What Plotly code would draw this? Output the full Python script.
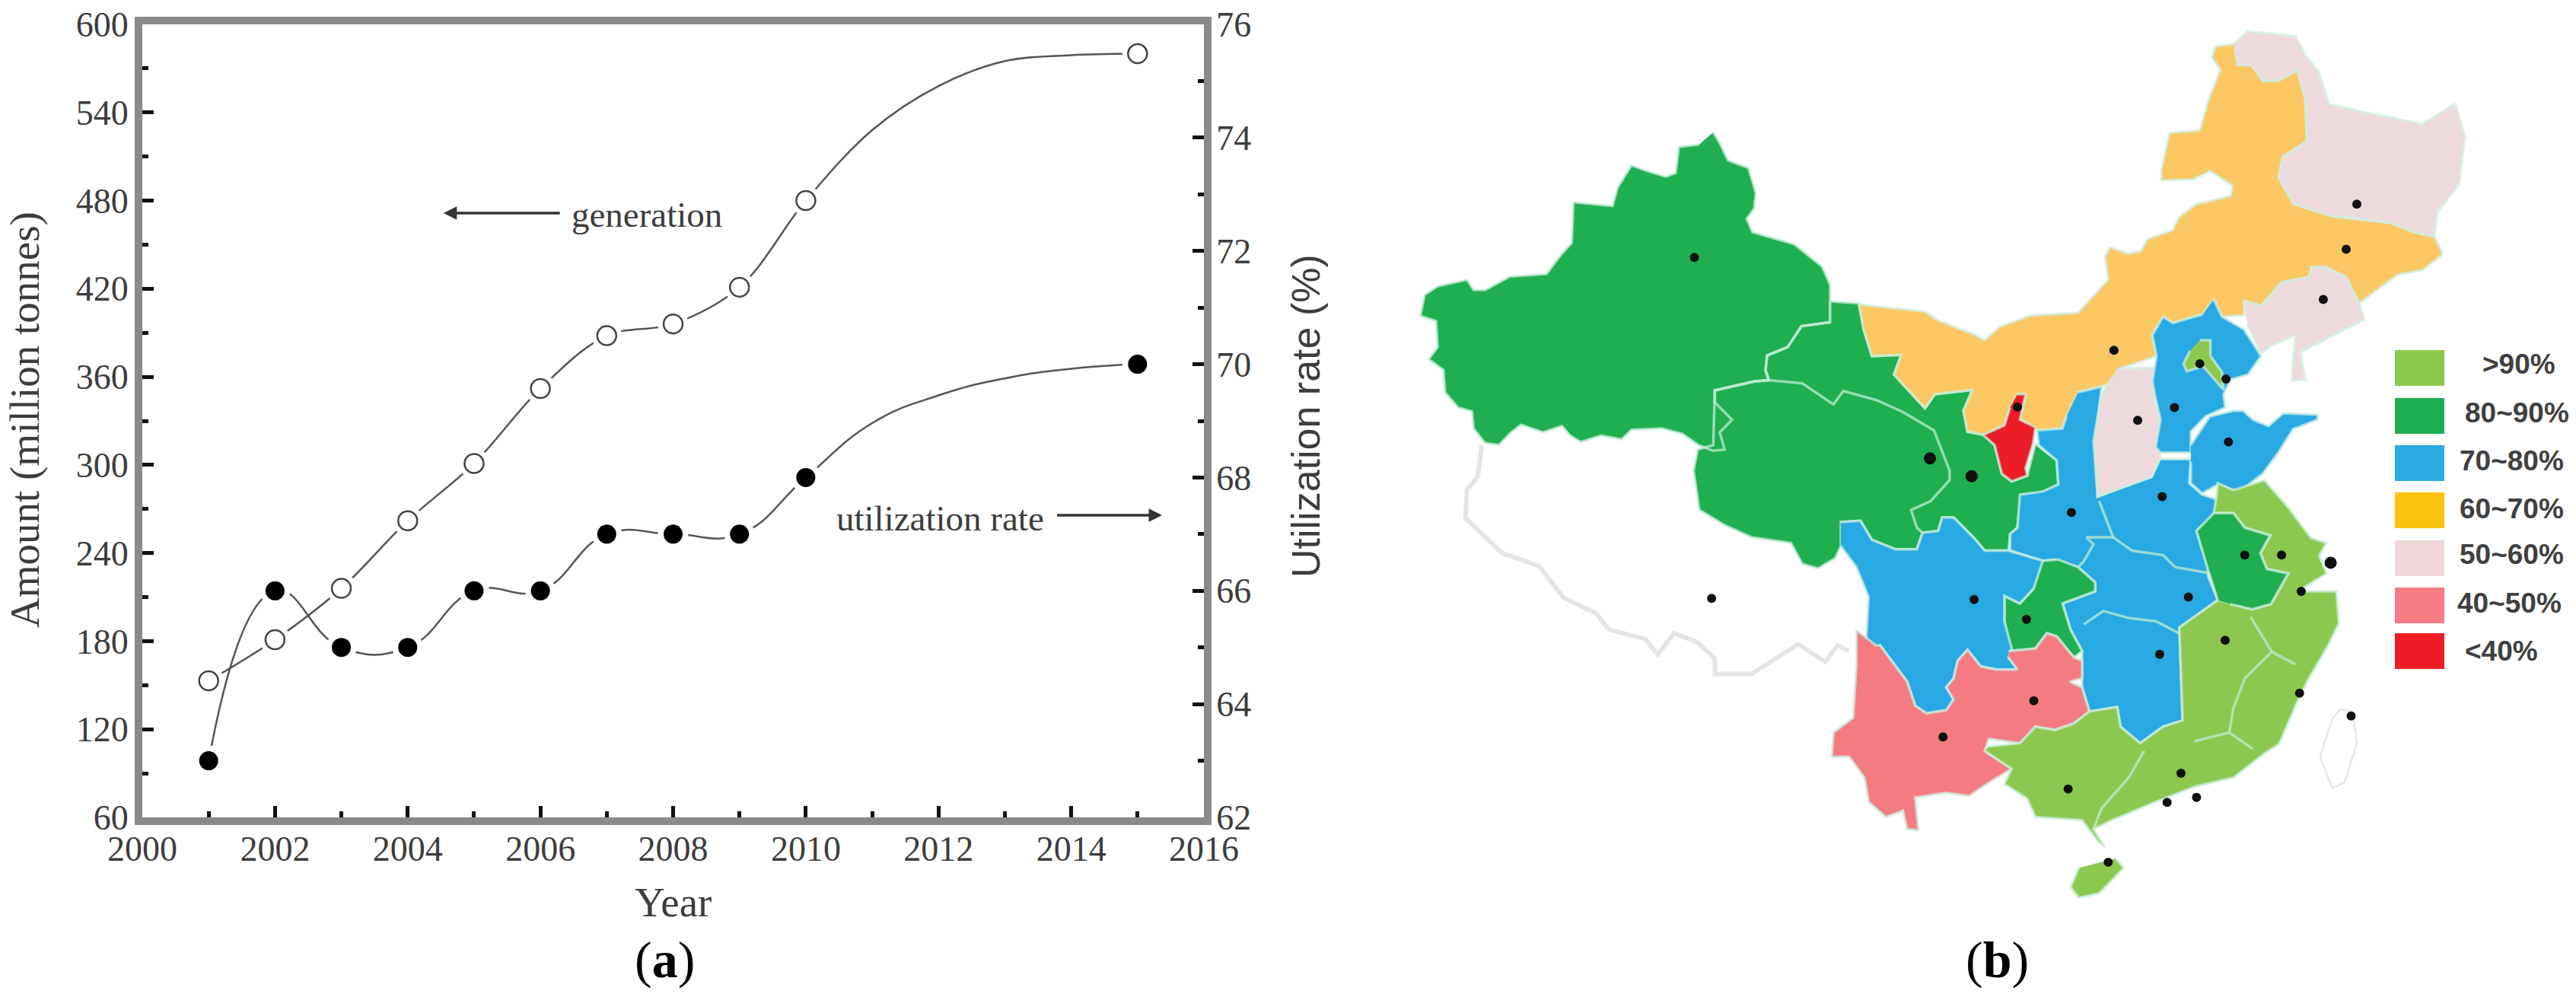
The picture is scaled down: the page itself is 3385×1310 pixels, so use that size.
import plotly.graph_objects as go

W, H = 3385, 1310

# panel (a)
years = [2001, 2002, 2003, 2004, 2005, 2006, 2007, 2008, 2009, 2010, 2015]
generation = [153, 181, 216, 262, 301, 352, 388, 396, 421, 480, 580]
utilization = [63, 66, 65, 65, 66, 66, 67, 67, 67, 68, 70]
# where the drawn curves run between 2010 and 2015 (no markers there)
tail_years = [2011, 2012, 2013, 2014]
generation_tail = [528, 558, 575, 579]
utilization_tail = [68.96, 69.45, 69.75, 69.92]

# panel (b): outlines, in map units (see xaxis3 / yaxis3)
xinjiang = [(513,208),(521,225),(531,252),(556,264),(565,303),(563,328),(554,344),(561,365),(612,384),(646,419),
            (656,448),(656,474),(656,507),(621,513),(604,546),(579,559),(577,582),(581,598),(563,600),(515,614),
            (515,633),(536,660),(521,680),(527,707),(513,709),(496,701),(475,682),(450,674),(413,676),(401,691),
            (376,685),(351,695),(338,685),(328,670),(305,680),(278,668),(264,682),(251,700),(234,697),(220,674),
            (218,647),(201,641),(185,617),(183,582),(165,565),(176,546),(174,505),(155,497),(160,464),(176,450),
            (212,440),(220,456),(234,456),(264,435),(309,431),(326,402),(340,382),(342,318),(390,324),(396,295),
            (413,260),(430,268),(455,278),(467,272),(471,231),(496,227)]
gansu_qinghai = [(656,474),(691,477),(697,518),(707,560),(743,558),(734,589),(751,613),(772,642),(784,620),(830,613),
                 (819,646),(824,679),(845,684),(857,700),(866,745),(878,757),(897,748),(907,698),(933,724),(935,762),
                 (914,776),(890,778),(885,830),(876,840),(874,866),(845,866),(831,845),(807,814),(793,814),(788,835),
                 (769,838),(762,864),(736,864),(707,849),(693,819),(669,821),(669,859),(662,878),(641,894),(622,887),
                 (608,854),(560,845),(527,826),(496,802),(489,740),(494,707),(513,700),(515,633),(515,614),(563,600),
                 (581,598),(577,582),(579,559),(604,546),(621,513),(656,507)]
inner_mongolia_jilin = [(693,479),(772,490),(788,504),(830,525),(845,535),(863,514),(901,496),(959,492),(975,469),
                        (996,440),(992,403),(998,389),(1021,399),(1036,395),(1044,376),(1075,362),(1083,341),(1104,321),
                        (1146,308),(1148,292),(1121,269),(1100,282),(1061,284),(1061,267),(1071,209),(1108,205),(1119,156),
                        (1133,110),(1123,90),(1127,73),(1150,69),(1154,102),(1171,102),(1185,127),(1204,127),(1227,110),
                        (1237,156),(1239,222),(1210,246),(1204,279),(1223,321),(1270,340),(1340,350),(1370,365),(1395,372),
                        (1405,400),(1380,425),(1350,432),(1315,465),(1303,477),(1287,436),(1262,420),(1245,420),(1241,436),
                        (1208,444),(1183,481),(1162,473),(1162,496),(1135,498),(1125,471),(1112,494),(1075,508),(1063,498),
                        (1050,527),(1055,560),(1009,580),(996,603),(988,608),(959,617),(945,655),(940,674),(909,677),
                        (888,660),(895,620),(885,620),(876,641),(869,669),(845,684),(824,679),(819,646),(830,613),(784,620),
                        (772,642),(751,613),(734,589),(743,558),(707,560),(697,518),(691,477)]
heilongjiang = [(1150,69),(1166,49),(1225,57),(1237,86),(1254,115),(1266,164),(1305,175),(1380,195),(1420,163),(1432,215),
                (1425,290),(1398,335),(1395,372),(1370,365),(1340,350),(1270,340),(1223,321),(1204,279),(1210,246),
                (1239,222),(1237,156),(1227,110),(1204,127),(1185,127),(1171,102),(1154,102)]
liaoning = [(1162,473),(1183,481),(1208,444),(1241,436),(1245,420),(1262,420),(1287,436),(1303,477),(1309,503),(1231,554),
            (1237,597),(1220,599),(1225,527),(1196,543),(1183,556),(1166,510)]
shanxi = [(1009,580),(1063,578),(1058,610),(1052,632),(1063,655),(1059,722),(1049,750),(983,781),(978,693),(988,620),(996,603)]
hebei = [(1125,471),(1135,498),(1162,518),(1183,560),(1167,589),(1146,597),(1137,620),(1139,641),(1115,655),(1097,679),
         (1097,712),(1060,712),(1054,703),(1060,660),(1054,627),(1050,600),(1055,560),(1050,527),(1063,498),(1075,508),(1112,494)]
tianjin = [(1108,535),(1121,535),(1121,560),(1135,585),(1137,613),(1129,601),(1112,576),(1092,584),(1088,572),(1096,552)]
shandong = [(1097,700),(1120,655),(1149,646),(1161,646),(1173,660),(1192,670),(1210,650),(1252,652),(1252,660),(1222,675),
            (1205,710),(1185,745),(1160,770),(1149,771),(1130,762),(1111,776),(1097,760),(1097,726)]
central = [(959,617),(988,608),(980,693),(983,781),(1049,750),(1059,722),(1097,722),(1095,760),(1111,778),(1128,785),
           (1128,807),(1104,835),(1118,892),(1118,906),(1130,944),(1083,987),(1087,1133),(1063,1143),(1035,1169),(1011,1143),
           (1007,1112),(973,1119),(964,1081),(964,1024),(950,991),(940,949),(980,930),(980,916),(959,892),(930,880),
           (916,882),(876,866),(876,840),(885,830),(888,778),(916,773),(935,762),(933,724),(911,700),(909,677),(940,674),(945,655)]
chongqing = [(916,882),(935,880),(959,892),(980,916),(980,930),(940,949),(950,991),(964,1024),(954,1034),(933,1001),
             (921,996),(907,1020),(874,1024),(869,977),(869,937),(888,949),(905,925)]
sichuan = [(669,821),(693,819),(707,849),(736,864),(762,864),(769,838),(788,835),(793,814),(807,814),(831,845),(845,866),
           (874,866),(916,882),(905,925),(888,949),(869,937),(869,977),(878,1020),(874,1034),(885,1053),(859,1053),(840,1048),
           (824,1022),(812,1039),(807,1067),(798,1081),(807,1100),(798,1117),(774,1122),(760,1110),(750,1072),(717,1015),
           (707,1027),(700,1006),(703,939),(688,892),(669,859)]
guizhou_yunnan = [(874,1024),(907,1020),(921,996),(933,1001),(954,1034),(964,1039),(964,1067),(949,1072),(964,1081),(973,1119),
                  (954,1138),(931,1148),(907,1143),(888,1169),(850,1162),(845,1181),(878,1209),(845,1235),(826,1252),(798,1247),
                  (760,1254),(764,1306),(750,1304),(745,1275),(724,1285),(703,1261),(698,1223),(679,1190),(658,1190),(660,1152),
                  (684,1129),(688,1048),(688,991),(712,1015),(717,1015),(750,1072),(760,1110),(774,1122),(798,1117),(807,1100),
                  (798,1081),(807,1067),(812,1039),(824,1022),(840,1048),(859,1053),(885,1053),(874,1034)]
ningxia = [(885,620),(895,620),(888,660),(907,672),(904,698),(895,736),(897,748),(878,757),(866,745),(857,700),(843,684),(869,669),(876,641)]
southeast = [(850,1174),(888,1169),(907,1143),(931,1148),(954,1138),(973,1119),(1007,1112),(1011,1143),(1035,1169),(1063,1143),
             (1087,1133),(1083,987),(1130,944),(1172,958),(1195,950),(1216,902),(1190,895),(1182,870),(1194,842),(1163,830),
             (1149,807),(1125,807),(1128,785),(1130,760),(1149,771),(1187,755),(1216,798),(1244,846),(1263,854),(1254,874),
             (1263,902),(1228,930),(1275,930),(1278,980),(1265,1015),(1240,1070),(1225,1110),(1205,1170),(1187,1185),(1149,1223),
             (1102,1237),(1054,1261),(997,1292),(978,1304),(992,1332),(983,1323),(964,1290),(907,1285),(897,1256),(869,1233),
             (878,1209),(845,1181)]
anhui = [(1130,944),(1118,896),(1104,835),(1125,807),(1149,807),(1163,830),(1194,842),(1182,870),(1190,895),(1216,902),
         (1195,950),(1172,958),(1145,950)]
hainan = [(1005,1350),(1015,1365),(985,1405),(960,1412),(950,1395),(960,1365)]

tibet_line = [(230,700),(225,750),(212,770),(210,815),(255,870),(300,890),(330,940),(370,965),(385,990),(430,1005),(445,1030),
              (465,996),(494,1010),(515,1036),(515,1060),(560,1060),(617,1013),(650,1041),(665,1015),(679,1024)]
taiwan_line = [(1280,1115),(1270,1130),(1255,1190),(1270,1240),(1285,1230),(1300,1170),(1295,1120),(1280,1115)]
borders = [
    [(656,474),(656,507),(621,513),(604,546),(579,559),(577,582),(581,598)],
    [(581,598),(563,600),(515,614),(515,633),(536,660),(521,680),(527,707),(513,709),(496,701)],
    [(581,598),(622,603),(660,636),(672,615),(712,629),(745,648),(783,677),(802,740),(802,755),(779,788),(755,802),(762,830),(769,838)],
    [(985,788),(1002,845),(1025,866),(1063,873),(1078,892),(1118,901)],
    [(1002,845),(969,845),(978,856),(966,883),(959,892)],
    [(966,982),(990,961),(1021,972),(1054,977),(1083,996)],
    [(1040,1181),(1021,1223),(988,1271),(978,1304)],
    [(1101,1166),(1144,1152),(1173,1178)],
    [(1144,1152),(1149,1114),(1163,1067),(1196,1025),(1225,1045)],
    [(1170,970),(1196,1025)],
]
cities = [(490,405),(511,941),(885,640),(832,943),(905,1102),(794,1159),(896,974),(951,806),(1062,781),
          (1094,939),(1059,1029),(1139,1007),(1163,873),(1208,873),(1232,930),(1230,1090),(1293,1126),(1085,1216),
          (1068,1262),(1104,1254),(947,1241),(996,1356),(1003,551),(1032,661),(1077,641),(1143,695),(1108,572),(1140,596),
          (1259,471),(1287,392),(1300,321)]
big_cities = [(778,721),(829,749),(1268,885)]

legend_labels = [">90%", "80~90%", "70~80%", "60~70%", "50~60%", "40~50%", "<40%"]
legend_colors = ["#8CC84B", "#1DAE4F", "#29ABE2", "#FBC30F", "#F0D6D9", "#F67C85", "#ED1C24"]
legend_tops = [460, 523, 585, 647, 710, 772, 832]
legend_text_x = [3310, 3307, 3300, 3300, 3300, 3297, 3287]
legend_text_y = [478, 542, 605, 668, 728, 792, 855]

LIGHT, DARK, BLUE, YELLOW, PINK, SALMON, RED = "#8CC84F", "#1FAE50", "#29A9E3", "#FBC763", "#EEDADC", "#F47B82", "#EC1C28"
regions = [
    (xinjiang, DARK), (gansu_qinghai, DARK), (inner_mongolia_jilin, YELLOW), (heilongjiang, PINK), (liaoning, PINK),
    (central, BLUE), (shanxi, PINK), (hebei, BLUE), (tianjin, LIGHT), (shandong, BLUE), (chongqing, DARK), (sichuan, BLUE),
    (guizhou_yunnan, SALMON), (ningxia, RED), (southeast, LIGHT), (anhui, DARK), (hainan, LIGHT),
]

SERIF = "Liberation Serif"
INK = "#3c3c3c"
AXIS = "#8a8a8a"

fig = go.Figure()

# white discs under the markers leave the little gaps in the curves
fig.add_trace(go.Scatter(x=years[:-1] + tail_years + years[-1:], y=generation[:-1] + generation_tail + generation[-1:],
                         mode="lines", line=dict(color="#555", width=2.5, shape="spline", smoothing=1)))
fig.add_trace(go.Scatter(x=years, y=generation, mode="markers", marker=dict(size=40, color="white")))
fig.add_trace(go.Scatter(x=years, y=generation, mode="markers",
                         marker=dict(size=25, color="white", line=dict(color="#444", width=2.5))))
fig.add_trace(go.Scatter(x=years[:-1] + tail_years + years[-1:], y=utilization[:-1] + utilization_tail + utilization[-1:],
                         yaxis="y2", mode="lines", line=dict(color="#555", width=2.5, shape="spline", smoothing=1.3)))
fig.add_trace(go.Scatter(x=years, y=utilization, yaxis="y2", mode="markers", marker=dict(size=40, color="white")))
fig.add_trace(go.Scatter(x=years, y=utilization, yaxis="y2", mode="markers", marker=dict(size=25, color="black")))

for outline, colour in regions:
    fig.add_trace(go.Scatter(x=[p[0] for p in outline], y=[p[1] for p in outline], xaxis="x3", yaxis="y3",
                             mode="lines", fill="toself", fillcolor=colour,
                             line=dict(color="rgba(205,240,225,0.7)", width=3.5)))
for line in borders:
    fig.add_trace(go.Scatter(x=[p[0] for p in line], y=[p[1] for p in line], xaxis="x3", yaxis="y3", mode="lines",
                             line=dict(color="rgba(190,235,210,0.75)", width=3.5)))
fig.add_trace(go.Scatter(x=[p[0] for p in tibet_line], y=[p[1] for p in tibet_line], xaxis="x3", yaxis="y3", mode="lines",
                         line=dict(color="#e4e4e4", width=6)))
fig.add_trace(go.Scatter(x=[p[0] for p in taiwan_line], y=[p[1] for p in taiwan_line], xaxis="x3", yaxis="y3", mode="lines",
                         line=dict(color="#e6e6e6", width=2.5)))
fig.add_trace(go.Scatter(x=[p[0] for p in cities], y=[p[1] for p in cities], xaxis="x3", yaxis="y3", mode="markers",
                         marker=dict(size=12, color="#111")))
fig.add_trace(go.Scatter(x=[p[0] for p in big_cities], y=[p[1] for p in big_cities], xaxis="x3", yaxis="y3", mode="markers",
                         marker=dict(size=16, color="#111")))

tick_font = dict(family=SERIF, size=46, color=INK)

fig.update_layout(
    width=W, height=H, margin=dict(l=0, r=0, t=0, b=0), paper_bgcolor="white", plot_bgcolor="white", showlegend=False,
    xaxis=dict(domain=[187 / W, 1582 / W], range=[2000, 2016], dtick=2, tick0=2000, ticks="inside", ticklen=15, tickwidth=5,
               tickcolor="#111", showline=True, linecolor=AXIS, linewidth=10, mirror=True, showgrid=False, zeroline=False,
               tickfont=tick_font, ticklabelstandoff=-8, anchor="y", automargin=False,
               minor=dict(dtick=1, ticks="inside", ticklen=8, tickwidth=5, tickcolor="#111")),
    yaxis=dict(domain=[1 - 1074 / H, 1 - 32 / H], range=[60, 600], dtick=60, tick0=60, ticks="inside", ticklen=15, tickwidth=5,
               tickcolor="#111", showline=True, linecolor=AXIS, linewidth=10, showgrid=False, zeroline=False,
               tickfont=tick_font, ticklabelstandoff=-1, automargin=False,
               minor=dict(dtick=30, ticks="inside", ticklen=8, tickwidth=5, tickcolor="#111")),
    yaxis2=dict(overlaying="y", side="right", range=[62, 76], dtick=2, tick0=62, ticks="inside", ticklen=15, tickwidth=5,
                tickcolor="#111", showline=True, linecolor=AXIS, linewidth=10, showgrid=False, zeroline=False,
                tickfont=tick_font, ticklabelstandoff=-3, automargin=False,
                minor=dict(dtick=1, ticks="inside", ticklen=8, tickwidth=5, tickcolor="#111")),
    xaxis3=dict(domain=[1700 / W, 1], range=[0, 1568], visible=False, anchor="y3"),
    yaxis3=dict(domain=[0, 1], range=[1568, 0], visible=False, anchor="x3"),
)


def page_note(px, py, text, font, angle=0):
    fig.add_annotation(x=px / W, y=1 - py / H, xref="paper", yref="paper", text=text, showarrow=False, font=font,
                       textangle=angle, xanchor="center", yanchor="middle")


# axis titles
title_font = dict(family=SERIF, size=55, color=INK)
page_note(884, 1185, "Year", title_font)
page_note(32, 552, "Amount (million tonnes)", title_font, -90)
page_note(1716, 547, "Utilization rate (%)", dict(family="Liberation Sans", size=52, color=INK), -90)

# labels and arrows inside panel (a)
note_font = dict(family=SERIF, size=47, color=INK)
fig.add_annotation(x=2007.6, y=470.5, text="generation", showarrow=False, font=note_font, xanchor="center", yanchor="middle")
fig.add_annotation(x=2012.03, y=263.7, text="utilization rate", showarrow=False, font=note_font, xanchor="center", yanchor="middle")
fig.add_annotation(x=2004.54, y=471.5, ax=2006.31, ay=471.5, axref="x", ayref="y", text="", showarrow=True,
                   arrowhead=2, arrowsize=1, arrowwidth=3.5, arrowcolor="#333")
fig.add_annotation(x=2015.37, y=265.7, ax=2013.77, ay=265.7, axref="x", ayref="y", text="", showarrow=True,
                   arrowhead=2, arrowsize=1, arrowwidth=3.5, arrowcolor="#333")

# panel letters
panel_font = dict(family=SERIF, size=68, color="black")
page_note(873, 1261, "(<b>a</b>)", panel_font)
page_note(2624, 1261, "(<b>b</b>)", panel_font)

# legend of panel (b)
legend_font = dict(family="Liberation Sans", size=37, color="#404040")
for label, colour, top, tx, ty in zip(legend_labels, legend_colors, legend_tops, legend_text_x, legend_text_y):
    fig.add_shape(type="rect", xref="paper", yref="paper", x0=3147 / W, x1=3212 / W, y0=1 - top / H, y1=1 - (top + 47) / H,
                  fillcolor=colour, line_width=0)
    page_note(tx, ty, f"<b>{label}</b>", legend_font)

fig.write_html("out.html", config={"displayModeBar": False}, post_script="document.body.style.margin='0';")
